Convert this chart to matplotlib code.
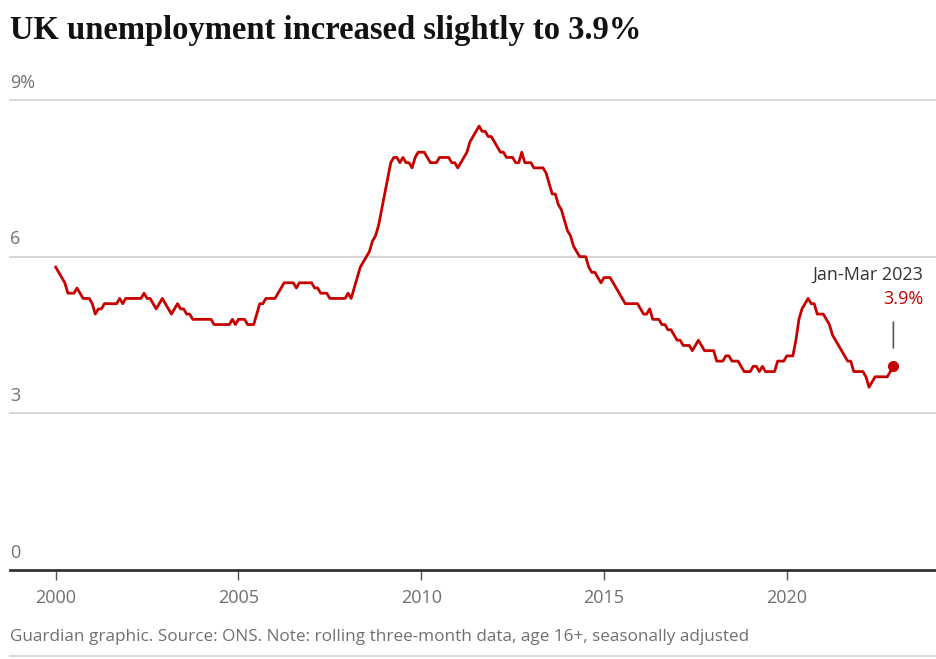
import numpy as np
import matplotlib
matplotlib.use("Agg")
import matplotlib.pyplot as plt
from matplotlib.transforms import blended_transform_factory

# Monthly unemployment rate (%), rolling three-month, starting Jan 2000
rate_2000 = [5.8, 5.7, 5.6, 5.5, 5.3, 5.3, 5.3, 5.4, 5.3, 5.2, 5.2, 5.2]
rate_2001 = [5.1, 4.9, 5.0, 5.0, 5.1, 5.1, 5.1, 5.1, 5.1, 5.2, 5.1, 5.2]
rate_2002 = [5.2, 5.2, 5.2, 5.2, 5.2, 5.3, 5.2, 5.2, 5.1, 5.0, 5.1, 5.2]
rate_2003 = [5.1, 5.0, 4.9, 5.0, 5.1, 5.0, 5.0, 4.9, 4.9, 4.8, 4.8, 4.8]
rate_2004 = [4.8, 4.8, 4.8, 4.8, 4.7, 4.7, 4.7, 4.7, 4.7, 4.7, 4.8, 4.7]
rate_2005 = [4.8, 4.8, 4.8, 4.7, 4.7, 4.7, 4.9, 5.1, 5.1, 5.2, 5.2, 5.2]
rate_2006 = [5.2, 5.3, 5.4, 5.5, 5.5, 5.5, 5.5, 5.4, 5.5, 5.5, 5.5, 5.5]
rate_2007 = [5.5, 5.4, 5.4, 5.3, 5.3, 5.3, 5.2, 5.2, 5.2, 5.2, 5.2, 5.2]
rate_2008 = [5.3, 5.2, 5.4, 5.6, 5.8, 5.9, 6.0, 6.1, 6.3, 6.4, 6.6, 6.9]
rate_2009 = [7.2, 7.5, 7.8, 7.9, 7.9, 7.8, 7.9, 7.8, 7.8, 7.7, 7.9, 8.0]
rate_2010 = [8.0, 8.0, 7.9, 7.8, 7.8, 7.8, 7.9, 7.9, 7.9, 7.9, 7.8, 7.8]
rate_2011 = [7.7, 7.8, 7.9, 8.0, 8.2, 8.3, 8.4, 8.5, 8.4, 8.4, 8.3, 8.3]
rate_2012 = [8.2, 8.1, 8.0, 8.0, 7.9, 7.9, 7.9, 7.8, 7.8, 8.0, 7.8, 7.8]
rate_2013 = [7.8, 7.7, 7.7, 7.7, 7.7, 7.6, 7.4, 7.2, 7.2, 7.0, 6.9, 6.7]
rate_2014 = [6.5, 6.4, 6.2, 6.1, 6.0, 6.0, 6.0, 5.8, 5.7, 5.7, 5.6, 5.5]
rate_2015 = [5.6, 5.6, 5.6, 5.5, 5.4, 5.3, 5.2, 5.1, 5.1, 5.1, 5.1, 5.1]
rate_2016 = [5.0, 4.9, 4.9, 5.0, 4.8, 4.8, 4.8, 4.7, 4.7, 4.6, 4.6, 4.5]
rate_2017 = [4.4, 4.4, 4.3, 4.3, 4.3, 4.2, 4.3, 4.4, 4.3, 4.2, 4.2, 4.2]
rate_2018 = [4.2, 4.0, 4.0, 4.0, 4.1, 4.1, 4.0, 4.0, 4.0, 3.9, 3.8, 3.8]
rate_2019 = [3.8, 3.9, 3.9, 3.8, 3.9, 3.8, 3.8, 3.8, 3.8, 4.0, 4.0, 4.0]
rate_2020 = [4.1, 4.1, 4.1, 4.4, 4.8, 5.0, 5.1, 5.2, 5.1, 5.1, 4.9, 4.9]
rate_2021 = [4.9, 4.8, 4.7, 4.5, 4.4, 4.3, 4.2, 4.1, 4.0, 4.0, 3.8, 3.8]
rate_2022 = [3.8, 3.8, 3.7, 3.5, 3.6, 3.7, 3.7, 3.7, 3.7, 3.7, 3.8, 3.9]

start_year = 2000
x_ticks = [2000, 2005, 2010, 2015, 2020]
x_tick_labels = ["2000", "2005", "2010", "2015", "2020"]
y_ticks = [0, 3, 6, 9]
y_tick_labels = ["0", "3", "6", "9%"]
annotation_period = "Jan-Mar 2023"
annotation_value = "3.9%"
title = "UK unemployment increased slightly to 3.9%"
footer = "Guardian graphic. Source: ONS. Note: rolling three-month data, age 16+, seasonally adjusted"

values = np.array(rate_2000 + rate_2001 + rate_2002 + rate_2003 + rate_2004 + rate_2005 +
                  rate_2006 + rate_2007 + rate_2008 + rate_2009 + rate_2010 + rate_2011 +
                  rate_2012 + rate_2013 + rate_2014 + rate_2015 + rate_2016 + rate_2017 +
                  rate_2018 + rate_2019 + rate_2020 + rate_2021 + rate_2022)
dates = start_year + np.arange(len(values)) / 12.0

RED = "#c70000"
GREY_TXT = "#707070"
W, H = 937, 659
fig = plt.figure(figsize=(W / 100, H / 100), dpi=100)
plt.rcParams['font.family'] = ['Open Sans', 'DejaVu Sans']

ax_left, ax_right = 10 / W, 1.0
ax_bottom, ax_top = (H - 570) / H, (H - 100) / H
ax = fig.add_axes([ax_left, ax_bottom, ax_right - ax_left, ax_top - ax_bottom])
ax.set_xlim(1998.75, 2024.11)
ax.set_ylim(0, 9)

for s in ["top", "right", "left"]:
    ax.spines[s].set_visible(False)
ax.spines["bottom"].set_color("#333333")
ax.spines["bottom"].set_linewidth(2.0)
ax.spines["bottom"].set_zorder(5)

for yv in y_ticks[1:]:
    ax.axhline(yv, color="#cfcfcf", lw=1.2, zorder=1, clip_on=False)

ax.set_yticks([])
trans = blended_transform_factory(ax.transAxes, ax.transData)
for yv, lab in zip(y_ticks, y_tick_labels):
    ax.annotate(lab, xy=(0, yv), xycoords=trans, xytext=(0, 6), textcoords="offset points",
                ha="left", va="bottom", fontsize=13, color=GREY_TXT)

ax.set_xticks(x_ticks)
ax.set_xticklabels(x_tick_labels)
ax.tick_params(axis="x", length=7, width=1, color="#555555", labelsize=13,
               labelcolor=GREY_TXT, pad=7)

ax.plot(dates, values, color=RED, lw=2.0, zorder=3, solid_joinstyle="round")
ax.plot(dates[-1], values[-1], "o", color=RED, ms=7, zorder=4)

ax.annotate("", xy=(dates[-1], values[-1] + 0.3), xytext=(dates[-1], values[-1] + 0.9),
            arrowprops=dict(arrowstyle="-", color="#555555", lw=1.2))
ax.annotate(annotation_period, xy=(dates[-1], values[-1]), xytext=(30, 92),
            textcoords="offset pixels", ha="right", va="center", fontsize=13, color="#333333")
ax.annotate(annotation_value, xy=(dates[-1], values[-1]), xytext=(30, 67),
            textcoords="offset pixels", ha="right", va="center", fontsize=13, color=RED)

fig.text(10 / W, 1 - 30 / H, title, ha="left", va="center", fontsize=23.5,
         fontweight="bold", family=["Liberation Serif", "DejaVu Serif"], color="#121212")
fig.text(10 / W, 1 - 637 / H, footer, ha="left", va="center", fontsize=12.3, color=GREY_TXT)
fig.add_artist(plt.Line2D([10 / W, 1], [1 - 656 / H, 1 - 656 / H], color="#dcdcdc", lw=1.5))

fig.savefig("out.png", dpi=100)
